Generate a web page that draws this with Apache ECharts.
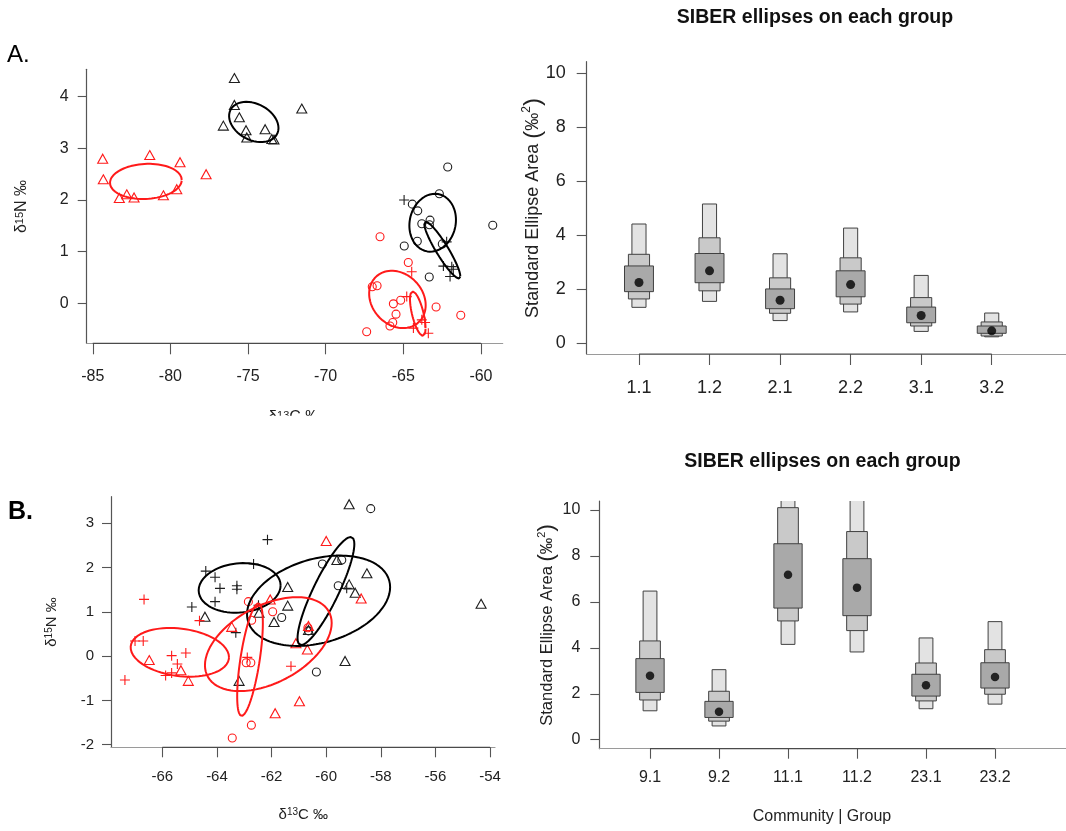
<!DOCTYPE html>
<html>
<head>
<meta charset="utf-8">
<script src="https://cdn.jsdelivr.net/npm/echarts@6/dist/echarts.min.js"></script>
<style>
  html, body { margin: 0; padding: 0; background: #ffffff; }
  #chart { width: 1066px; height: 831px; }
</style>
</head>
<body>
<div id="chart"></div>
<script>
// ---------- Panel A: isotope biplot (d13C, d15N) ----------
const aRedTriangles = [[-84.36,2.80],[-84.32,2.40],[-81.33,2.87],[-79.38,2.73],[-83.29,2.04],[-82.81,2.11],[-82.34,2.05],[-80.45,2.09],[-79.59,2.21],[-77.70,2.50]];
const aBlackTriangles = [[-75.88,4.36],[-75.88,3.84],[-75.56,3.60],[-76.59,3.44],[-75.13,3.35],[-75.08,3.21],[-73.90,3.37],[-73.47,3.18],[-73.33,3.17],[-71.54,3.77]];
const aBlackCircles = [[-62.14,2.64],[-62.68,2.12],[-64.42,1.92],[-64.07,1.79],[-63.81,1.54],[-63.28,1.61],[-63.32,1.52],[-64.10,1.20],[-64.94,1.11],[-62.49,1.15],[-63.33,0.51],[-59.24,1.51]];
const aBlackCrosses = [[-64.95,2.00],[-62.21,1.19],[-62.42,0.72],[-61.88,0.71],[-61.78,0.66],[-61.99,0.52]];
const aRedCircles = [[-66.50,1.29],[-64.68,0.79],[-67.00,0.32],[-66.69,0.34],[-65.64,-0.01],[-65.17,0.06],[-65.47,-0.21],[-65.68,-0.37],[-65.86,-0.44],[-67.36,-0.55],[-62.89,-0.07],[-61.30,-0.23]];
const aRedCrosses = [[-64.46,0.61],[-64.78,0.13],[-63.81,-0.32],[-63.60,-0.37],[-64.35,-0.48],[-63.39,-0.58]];

// standard ellipses: [centre x, centre y, sd x, sd y, correlation]
const aEllRedTriangles = [-81.58, 2.36, 2.31, 0.34, 0.08];
const aEllBlackTriangles = [-74.63, 3.51, 1.59, 0.39, -0.3];
const aEllBlackCircles = [-63.11, 1.56, 1.50, 0.56, 0.1];
const aEllBlackCrosses = [-62.49, 1.03, 1.16, 0.55, -0.92];
const aEllRedCircles = [-65.38, 0.075, 1.82, 0.555, -0.2];
const aEllRedCrosses = [-64.07, -0.20, 0.50, 0.43, -0.65];

const aXTicks = [-85, -80, -75, -70, -65, -60];
const aYTicks = [0, 1, 2, 3, 4];

// ---------- Panel B: isotope biplot ----------
const bBlackCrosses = [[-64.41,1.92],[-64.07,1.78],[-63.89,1.53],[-63.27,1.59],[-63.27,1.51],[-64.07,1.23],[-64.92,1.11],[-63.31,0.53],[-62.66,2.08],[-62.15,2.63],[-62.48,1.15],[-59.25,1.53]];
const bBlackTriangles = [[-59.16,3.43],[-59.61,2.17],[-58.51,1.87],[-61.41,1.56],[-59.16,1.62],[-58.94,1.43],[-61.41,1.14],[-62.46,0.98],[-61.91,0.77],[-64.44,0.89],[-60.65,0.59],[-59.31,-0.11],[-63.19,-0.56],[-54.33,1.18]];
const bBlackCircles = [[-58.37,3.33],[-59.43,2.17],[-60.14,2.08],[-59.56,1.59],[-61.63,0.87],[-60.65,0.57],[-60.36,-0.36]];
const bRedCrosses = [[-66.67,1.28],[-67.00,0.34],[-66.70,0.34],[-67.37,-0.54],[-65.66,0.01],[-65.14,0.07],[-65.45,-0.18],[-65.66,-0.38],[-65.88,-0.44],[-64.64,0.80],[-62.89,-0.03],[-61.29,-0.23]];
const bRedTriangles = [[-66.48,-0.09],[-65.32,-0.32],[-65.05,-0.56],[-63.46,0.66],[-60.00,2.60],[-58.72,1.30],[-62.05,1.28],[-60.65,0.68],[-61.11,0.29],[-60.69,0.15],[-60.98,-1.02],[-61.87,-1.29]];
const bRedCircles = [[-62.85,1.23],[-62.73,0.81],[-62.93,-0.15],[-62.76,-0.15],[-62.74,-1.56],[-63.44,-1.85],[-61.96,1.00],[-60.67,0.64]];

const bEllBlackCrosses = [-63.17, 1.54, 1.50, 0.56, 0.1];
const bEllBlackTriangles = [-60.28, 1.25, 2.62, 1.02, 0.3];
const bEllBlackCircles = [-60.01, 1.47, 1.04, 1.22, 0.87];
const bEllRedCrosses = [-65.36, 0.085, 1.80, 0.55, -0.2];
const bEllRedTriangles = [-62.12, 0.27, 2.32, 1.06, 0.45];
const bEllRedCircles = [-62.79, -0.08, 0.47, 1.27, 0.65];

const bXTicks = [-66, -64, -62, -60, -58, -56, -54];
const bYTicks = [-2, -1, 0, 1, 2, 3];

// ---------- SIBER standard ellipse area posteriors ----------
const areaTicks = [0, 2, 4, 6, 8, 10];
const groupTicks = [1, 2, 3, 4, 5, 6];

const topGroups = ['1.1', '1.2', '2.1', '2.2', '3.1', '3.2'];
const topMode = [2.25, 2.68, 1.59, 2.17, 1.03, 0.46];
const top95 = [[1.33,4.41],[1.55,5.15],[0.84,3.31],[1.16,4.26],[0.44,2.51],[0.24,1.12]];
const top75 = [[1.64,3.29],[1.94,3.90],[1.11,2.42],[1.45,3.16],[0.64,1.69],[0.27,0.79]];
const top50 = [[1.91,2.86],[2.24,3.32],[1.28,2.01],[1.72,2.68],[0.76,1.34],[0.37,0.64]];

const botGroups = ['9.1', '9.2', '11.1', '11.2', '23.1', '23.2'];
const botMode = [2.79, 1.22, 7.18, 6.62, 2.37, 2.73];
const bot95 = [[1.26,6.47],[0.60,3.05],[4.15,12.8],[3.82,14.5],[1.35,4.43],[1.55,5.14]];
const bot75 = [[1.73,4.30],[0.81,2.11],[5.17,10.10],[4.75,9.06],[1.69,3.34],[1.98,3.92]];
const bot50 = [[2.06,3.53],[0.97,1.67],[5.73,8.53],[5.40,7.88],[1.90,2.85],[2.25,3.35]];

// ---------- helpers ----------
const FONT = '"Liberation Sans", Arial, sans-serif';
const NARROW = '"Liberation Sans Narrow", "Liberation Sans", Arial, sans-serif';
const RED = '#ff1a1a';
const BLACK = '#1e1e1e';
const CROSS = 'path://M0 5L10 5M5 0L5 10';

function points(axis, data, symbol, size, color) {
  return {
    type: 'scatter', xAxisIndex: axis, yAxisIndex: axis, data: data,
    symbol: symbol, symbolSize: size, silent: true, z: 2,
    itemStyle: { color: 'rgba(0,0,0,0)', borderColor: color, borderWidth: 1.1, opacity: 1 }
  };
}

function ellipse(axis, e, color) {
  const cx = e[0], cy = e[1], sx = e[2], sy = e[3], rho = e[4];
  const k = Math.sqrt(1 - rho * rho);
  const outline = [];
  for (let i = 0; i <= 160; i++) {
    const t = i / 160 * 2 * Math.PI;
    outline.push([cx + sx * Math.cos(t), cy + sy * (rho * Math.cos(t) + k * Math.sin(t))]);
  }
  return {
    type: 'line', xAxisIndex: axis, yAxisIndex: axis, data: outline,
    showSymbol: false, symbol: 'none', silent: true, z: 3, smooth: false,
    lineStyle: { color: color, width: 2 }
  };
}

function boxes(axis, ranges, width, fill) {
  return {
    type: 'custom', xAxisIndex: axis, yAxisIndex: axis, clip: true, silent: true, z: 2,
    data: ranges.map((r, i) => [groupTicks[i], r[0], r[1]]),
    encode: { x: 0, y: [1, 2] },
    renderItem: function (params, api) {
      const x = api.value(0);
      const p1 = api.coord([x - width / 2, api.value(2)]);
      const p2 = api.coord([x + width / 2, api.value(1)]);
      return {
        type: 'rect',
        shape: { x: p1[0], y: p1[1], width: p2[0] - p1[0], height: p2[1] - p1[1] },
        style: { fill: fill, stroke: '#404040', lineWidth: 1 }
      };
    }
  };
}

function modes(axis, values, size) {
  return {
    type: 'scatter', xAxisIndex: axis, yAxisIndex: axis, silent: true, z: 4,
    data: values.map((v, i) => [groupTicks[i], v]),
    symbol: 'circle', symbolSize: size, itemStyle: { color: '#000' }
  };
}

// darker axis segment spanning the first to the last tick
function axisSpan(axis, ticks, level) {
  return {
    type: 'line', xAxisIndex: axis, yAxisIndex: axis, silent: true, z: 5,
    data: [[ticks[0], level], [ticks[ticks.length - 1], level]],
    showSymbol: false, symbol: 'none', clip: false,
    lineStyle: { color: '#4a4a4a', width: 1.2 }
  };
}

function valueAxis(grid, min, max, ticks, font, size, margin, tickLen, formatter) {
  return {
    type: 'value', gridIndex: grid, min: min, max: max, scale: true,
    axisLine: { show: true, onZero: false, lineStyle: { color: '#555', width: 1.2 } },
    axisTick: { show: true, length: tickLen, customValues: ticks, lineStyle: { color: '#555', width: 1.1 } },
    axisLabel: {
      show: true, customValues: ticks, margin: margin, color: '#222',
      fontFamily: font, fontSize: size, formatter: formatter
    },
    splitLine: { show: false }
  };
}

function xAxisWithLightLine(grid, min, max, ticks, font, size, margin, tickLen, formatter) {
  const ax = valueAxis(grid, min, max, ticks, font, size, margin, tickLen, formatter);
  ax.axisLine.lineStyle = { color: '#9a9a9a', width: 1.2 };
  return ax;
}

const A_Y = [-0.774, 4.53];
const TR_Y = [-0.395, 10.41];
const B_Y = [-2.06, 3.60];
const BR_Y = [-0.39, 10.39];

const chart = echarts.init(document.getElementById('chart'), null, { renderer: 'canvas' });

chart.setOption({
  animation: false,
  backgroundColor: '#ffffff',
  grid: [
    { left: 86.7, top: 69.3, width: 416, height: 274 },
    { left: 586.7, top: 61.7, width: 479.3, height: 292.3 },
    { left: 111, top: 496.7, width: 384, height: 250.6 },
    { left: 599.3, top: 501, width: 466.7, height: 247.7 }
  ],
  xAxis: [
    xAxisWithLightLine(0, -85.39, -58.60, aXTicks, FONT, 16, 25, 11),
    xAxisWithLightLine(1, 0.259, 7.053, groupTicks, NARROW, 18, 25, 11, v => topGroups[Math.round(v) - 1] || ''),
    xAxisWithLightLine(2, -67.88, -53.82, bXTicks, FONT, 15, 22, 10),
    xAxisWithLightLine(3, 0.265, 7.029, groupTicks, FONT, 16, 21, 10, v => botGroups[Math.round(v) - 1] || '')
  ],
  yAxis: [
    valueAxis(0, A_Y[0], A_Y[1], aYTicks, FONT, 16, 18, 9),
    valueAxis(1, TR_Y[0], TR_Y[1], areaTicks, NARROW, 18, 21, 10),
    valueAxis(2, B_Y[0], B_Y[1], bYTicks, FONT, 15, 17, 9),
    valueAxis(3, BR_Y[0], BR_Y[1], areaTicks, FONT, 16, 19, 9)
  ],
  series: [
    // panel A
    points(0, aRedTriangles, 'triangle', [10, 9], RED),
    points(0, aBlackTriangles, 'triangle', [10, 9], BLACK),
    points(0, aBlackCircles, 'circle', 8, BLACK),
    points(0, aBlackCrosses, CROSS, 10, BLACK),
    points(0, aRedCircles, 'circle', 8, RED),
    points(0, aRedCrosses, CROSS, 10, RED),
    ellipse(0, aEllRedTriangles, RED),
    ellipse(0, aEllBlackTriangles, '#000'),
    ellipse(0, aEllBlackCircles, '#000'),
    ellipse(0, aEllBlackCrosses, '#000'),
    ellipse(0, aEllRedCircles, RED),
    ellipse(0, aEllRedCrosses, RED),
    axisSpan(0, aXTicks, A_Y[0]),

    // SEA posteriors, communities 1-3
    boxes(1, top95, 0.2, '#e3e3e3'),
    boxes(1, top75, 0.3, '#c9c9c9'),
    boxes(1, top50, 0.41, '#a9a9a9'),
    modes(1, topMode, 9),
    axisSpan(1, groupTicks, TR_Y[0]),

    // panel B
    points(2, bBlackCrosses, CROSS, 10, BLACK),
    points(2, bBlackTriangles, 'triangle', [10, 9], BLACK),
    points(2, bBlackCircles, 'circle', 8, BLACK),
    points(2, bRedCrosses, CROSS, 10, RED),
    points(2, bRedTriangles, 'triangle', [10, 9], RED),
    points(2, bRedCircles, 'circle', 8, RED),
    ellipse(2, bEllBlackCrosses, '#000'),
    ellipse(2, bEllBlackTriangles, '#000'),
    ellipse(2, bEllBlackCircles, '#000'),
    ellipse(2, bEllRedCrosses, RED),
    ellipse(2, bEllRedTriangles, RED),
    ellipse(2, bEllRedCircles, RED),
    axisSpan(2, bXTicks, B_Y[0]),

    // SEA posteriors, communities 9, 11, 23
    boxes(3, bot95, 0.2, '#e3e3e3'),
    boxes(3, bot75, 0.3, '#c9c9c9'),
    boxes(3, bot50, 0.41, '#a9a9a9'),
    modes(3, botMode, 8.5),
    axisSpan(3, groupTicks, BR_Y[0])
  ],
  graphic: [
    { type: 'text', x: 7, y: 55, style: { text: 'A.', font: '24px ' + FONT, fill: '#000', align: 'left', verticalAlign: 'middle' } },
    { type: 'text', x: 8, y: 512.5, style: { text: 'B.', font: 'bold 25px ' + FONT, fill: '#000', align: 'left', verticalAlign: 'middle' } },

    // titles
    { type: 'text', x: 815, y: 17.5, style: { text: 'SIBER ellipses on each group', font: 'bold 19.5px ' + FONT, fill: '#111', align: 'center', verticalAlign: 'middle' } },
    { type: 'text', x: 822.5, y: 462, style: { text: 'SIBER ellipses on each group', font: 'bold 19.5px ' + FONT, fill: '#111', align: 'center', verticalAlign: 'middle' } },

    // axis titles, panel A
    { type: 'text', x: 22, y: 206.5, rotation: Math.PI / 2,
      style: { text: '{a|δ}{s|15}{a|N ‰}', align: 'center', verticalAlign: 'middle', fill: '#222',
        rich: { a: { fontSize: 16, fontFamily: FONT, fill: '#222' }, s: { fontSize: 11, fontFamily: FONT, verticalAlign: 'top', fill: '#222' } } } },
    { type: 'text', x: 294.7, y: 418, z: 10,
      style: { text: '{a|δ}{s|13}{a|C ‰}', align: 'center', verticalAlign: 'middle', fill: '#222',
        rich: { a: { fontSize: 16, fontFamily: FONT, fill: '#222' }, s: { fontSize: 11, fontFamily: FONT, verticalAlign: 'top', fill: '#222' } } } },
    { type: 'rect', z: 11, shape: { x: 240, y: 415.7, width: 120, height: 30 }, style: { fill: '#ffffff' } },

    // axis titles, panel B
    { type: 'text', x: 52, y: 622, rotation: Math.PI / 2,
      style: { text: '{a|δ}{s|15}{a|N ‰}', align: 'center', verticalAlign: 'middle', fill: '#222',
        rich: { a: { fontSize: 15, fontFamily: FONT, fill: '#222' }, s: { fontSize: 10, fontFamily: FONT, verticalAlign: 'top', fill: '#222' } } } },
    { type: 'text', x: 303.3, y: 815,
      style: { text: '{a|δ}{s|13}{a|C ‰}', align: 'center', verticalAlign: 'middle', fill: '#222',
        rich: { a: { fontSize: 15, fontFamily: FONT, fill: '#222' }, s: { fontSize: 10, fontFamily: FONT, verticalAlign: 'top', fill: '#222' } } } },

    // axis titles, SEA panels
    { type: 'text', x: 533, y: 208, rotation: Math.PI / 2,
      style: { text: '{a|Standard Ellipse Area }{p|(}{a|‰}{s|2}{p|)}', align: 'center', verticalAlign: 'middle', fill: '#222',
        rich: { a: { fontSize: 18, fontFamily: FONT, fill: '#222' }, p: { fontSize: 24, fontFamily: FONT, fill: '#222' }, s: { fontSize: 12, fontFamily: FONT, verticalAlign: 'top', fill: '#222' } } } },
    { type: 'text', x: 547, y: 625, rotation: Math.PI / 2,
      style: { text: '{a|Standard Ellipse Area }{p|(}{a|‰}{s|2}{p|)}', align: 'center', verticalAlign: 'middle', fill: '#222',
        rich: { a: { fontSize: 16.5, fontFamily: FONT, fill: '#222' }, p: { fontSize: 22, fontFamily: FONT, fill: '#222' }, s: { fontSize: 11, fontFamily: FONT, verticalAlign: 'top', fill: '#222' } } } },
    { type: 'text', x: 822, y: 817, style: { text: 'Community | Group', font: '16px ' + FONT, fill: '#222', align: 'center', verticalAlign: 'middle' } }
  ]
});
</script>
</body>
</html>
